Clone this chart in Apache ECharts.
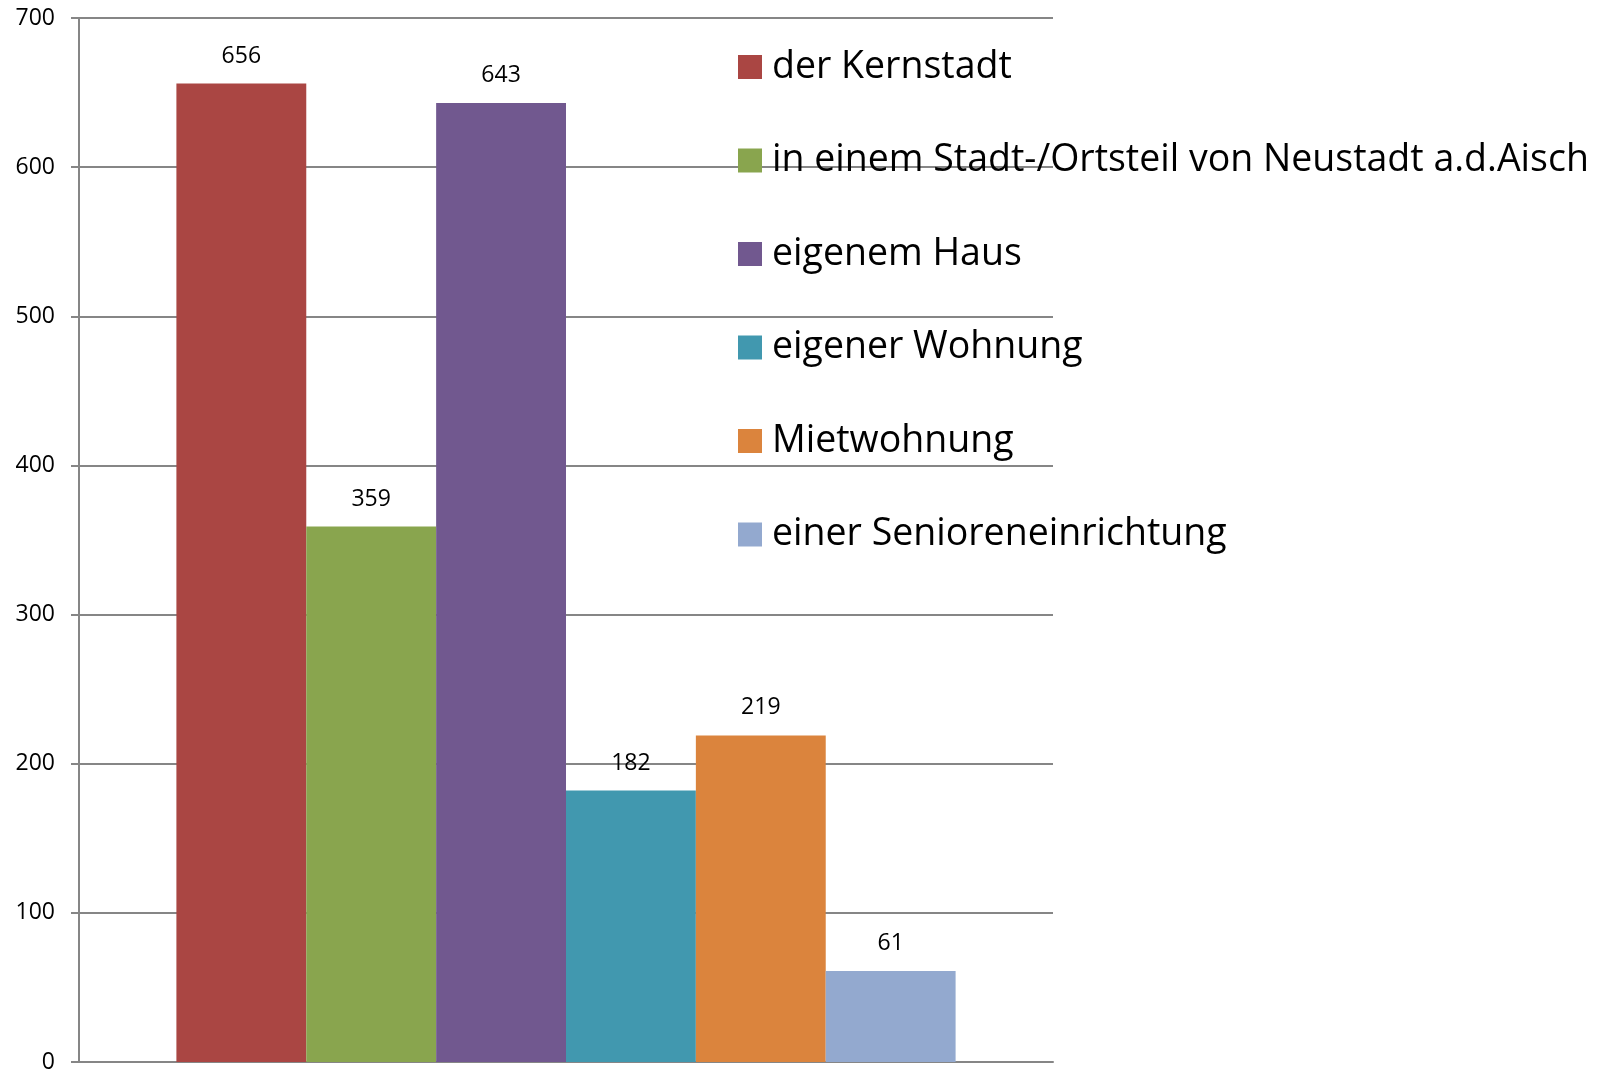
<!DOCTYPE html>
<html><head><meta charset="utf-8">
<script src="https://cdn.jsdelivr.net/npm/echarts@6/dist/echarts.min.js"></script>
<style>html,body{margin:0;padding:0;background:#fff;overflow:hidden}#c{width:1606px;height:1069px}</style>
</head><body><div id="c"></div>
<script>
var seriesNames = ["der Kernstadt","in einem Stadt-/Ortsteil von Neustadt a.d.Aisch","eigenem Haus","eigener Wohnung","Mietwohnung","einer Senioreneinrichtung"];
var seriesValues = [656, 359, 643, 182, 219, 61];
var seriesColors = ["#AA4643","#89A54E","#71588F","#4198AF","#DB843D","#93A9CF"];
var categories = [""];
var yTicks = {min: 0, max: 700, interval: 100};
var FONT = "Open Sans";
var chart = echarts.init(document.getElementById('c'), null, {renderer: 'canvas'});
var series = seriesNames.map(function(n, i){
  return {
    name: n, type: 'bar', data: [seriesValues[i]],
    barGap: '0%', barCategoryGap: '20%',
    itemStyle: {color: seriesColors[i]},
    label: {show: true, position: 'top', distance: 16, color: '#000', fontSize: 23, fontFamily: FONT}
  };
});
chart.setOption({
  animation: false,
  grid: {left: 79, top: 18, right: 553, bottom: 7, containLabel: false, outerBoundsMode: 'none'},
  legend: {
    orient: 'vertical', left: 733, top: 42, itemWidth: 24, itemHeight: 24, itemGap: 53.5,
    icon: 'rect', data: seriesNames,
    textStyle: {fontSize: 37.5, fontFamily: FONT, color: '#000', lineHeight: 40, padding: [0,0,0,5]}
  },
  xAxis: {type: 'category', data: categories,
    axisLine: {show: true, lineStyle: {color: '#868686', width: 2}},
    axisTick: {show: false}, axisLabel: {show: false}},
  yAxis: {type: 'value', min: yTicks.min, max: yTicks.max, interval: yTicks.interval,
    axisLine: {show: true, lineStyle: {color: '#868686', width: 2}},
    axisTick: {show: true, length: 8, lineStyle: {color: '#868686', width: 2}},
    axisLabel: {color: '#000', fontSize: 23, fontFamily: FONT, margin: 24},
    splitLine: {lineStyle: {color: '#868686', width: 2}}},
  series: series
});
</script></body></html>
